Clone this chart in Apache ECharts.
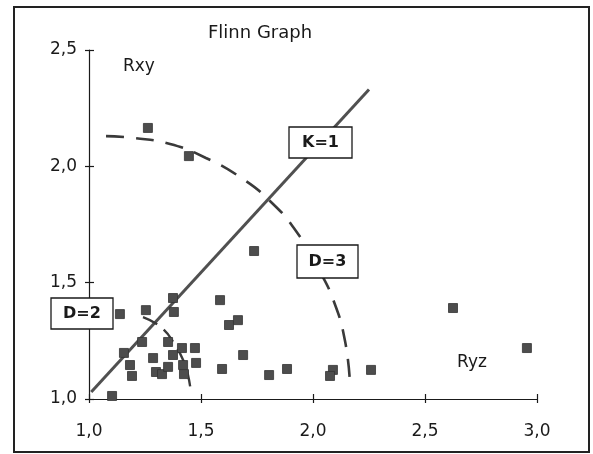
<!DOCTYPE html>
<html>
<head>
<meta charset="utf-8">
<script src="https://cdn.jsdelivr.net/npm/echarts@6/dist/echarts.min.js"></script>
<style>html,body{margin:0;padding:0;background:#fff}#c{width:593px;height:454px}</style>
</head>
<body>
<div id="c"></div>
<script>
// ---- data ----
const xTickValues = [1.0, 1.5, 2.0, 2.5, 3.0];
const xTickLabels = ['1,0', '1,5', '2,0', '2,5', '3,0'];
const yTickValues = [1.0, 1.5, 2.0, 2.5];
const yTickLabels = ['1,0', '1,5', '2,0', '2,5'];

const ryz = [1.138,1.254,1.375,1.379,1.237,1.156,1.353,1.415,1.473,1.286,1.375,1.478,1.183,1.192,1.299,1.326,1.353,1.420,1.424,1.103,1.585,1.625,1.665,1.688,1.594,1.737,1.804,1.884,2.089,2.076,2.259,2.625,2.955,1.263,1.446];
const rxy = [1.365,1.382,1.434,1.374,1.245,1.198,1.245,1.219,1.219,1.176,1.189,1.155,1.146,1.099,1.116,1.107,1.138,1.146,1.107,1.013,1.425,1.318,1.339,1.189,1.129,1.636,1.103,1.129,1.125,1.099,1.125,1.391,1.219,2.165,2.044];

const k1X = [1.01, 2.25];
const k1Y = [1.03, 2.33];

const d3X = [1.076,1.196,1.362,1.522,1.674,1.808,1.924,2.022,2.094,2.143,2.165];
const d3Y = [2.130,2.122,2.096,2.036,1.954,1.851,1.722,1.563,1.417,1.249,1.069];

const d2X = [1.241,1.326,1.384,1.424,1.442,1.455];
const d2Y = [1.352,1.305,1.232,1.159,1.103,1.030];

// ---- build ----
const zip = (a, b) => a.map((v, i) => [v, b[i]]);
const fmt = (vals, labs) => (v) => { const i = vals.findIndex(t => Math.abs(t - v) < 1e-9); return i >= 0 ? labs[i] : ''; };
const FONT = 'DejaVu Sans';
const ink = '#1a1a1a';
const markColor = '#4d4d4d';

function boxLabel(x, y, w, h, txt) {
  return [
    { type: 'rect', z: 100, shape: { x: x, y: y, width: w, height: h }, style: { fill: '#fff', stroke: ink, lineWidth: 1.3 } },
    { type: 'text', z: 101, x: x + w / 2, y: y + h / 2, style: { text: txt, fill: ink, font: 'bold 16px "' + FONT + '"', textAlign: 'center', textVerticalAlign: 'middle' } }
  ];
}

const chart = echarts.init(document.getElementById('c'), null, { renderer: 'canvas' });
chart.setOption({
  animation: false,
  backgroundColor: '#fff',
  grid: { left: 89, right: 56, top: 50, bottom: 55, containLabel: false },
  xAxis: [
    {
      type: 'value', min: 1, max: 3, interval: 0.5, position: 'bottom',
      axisLine: { lineStyle: { color: ink, width: 1.2 } },
      axisTick: { length: 4, lineStyle: { color: ink, width: 1.2 } },
      splitLine: { show: false },
      axisLabel: { formatter: fmt(xTickValues, xTickLabels), margin: 24, fontFamily: FONT, fontSize: 17, color: ink }
    },
    {
      type: 'value', min: 1, max: 3, interval: 0.5, position: 'bottom', offset: 0,
      axisLine: { show: false },
      axisTick: { inside: true, length: 5, lineStyle: { color: ink, width: 1.2 } },
      splitLine: { show: false },
      axisLabel: { show: false }
    }
  ],
  yAxis: [
    {
      type: 'value', min: 1, max: 2.5, interval: 0.5, position: 'left',
      axisLine: { show: true, lineStyle: { color: ink, width: 1.2 } },
      axisTick: { show: true, length: 4, lineStyle: { color: ink, width: 1.2 } },
      splitLine: { show: false },
      axisLabel: { formatter: fmt(yTickValues, yTickLabels), margin: 12, fontFamily: FONT, fontSize: 17, color: ink }
    },
    {
      type: 'value', min: 1, max: 2.5, interval: 0.5, position: 'left', offset: 0,
      axisLine: { show: false },
      axisTick: { show: true, inside: true, length: 5, lineStyle: { color: ink, width: 1.2 } },
      splitLine: { show: false },
      axisLabel: { show: false }
    }
  ],
  series: [
    {
      name: 'K=1', type: 'line', data: zip(k1X, k1Y), symbol: 'none', z: 2,
      lineStyle: { color: '#505050', width: 3 }
    },
    {
      name: 'D=3', type: 'line', data: zip(d3X, d3Y), symbol: 'none', smooth: true, z: 2,
      lineStyle: { color: '#3a3a3a', width: 2.6, type: [18, 12] }
    },
    {
      name: 'D=2', type: 'line', data: zip(d2X, d2Y), symbol: 'none', smooth: true, z: 2,
      lineStyle: { color: '#3a3a3a', width: 2.4, type: [16, 8] }
    },
    {
      name: 'samples', type: 'scatter', data: zip(ryz, rxy), symbol: 'rect', symbolSize: 9, z: 3,
      itemStyle: { color: markColor, borderColor: '#333', borderWidth: 0.8, opacity: 1 }
    }
  ],
  graphic: [
    { type: 'rect', shape: { x: 14, y: 7, width: 575, height: 445 }, style: { fill: 'none', stroke: '#222', lineWidth: 2 }, z: 0 },
    { type: 'text', x: 208, y: 33, style: { text: 'Flinn Graph', fill: ink, font: '18px "' + FONT + '"', textVerticalAlign: 'middle' }, z: 50 },
    { type: 'text', x: 123, y: 67, style: { text: 'Rxy', fill: ink, font: '17px "' + FONT + '"', textVerticalAlign: 'middle' }, z: 50 },
    { type: 'text', x: 457, y: 363, style: { text: 'Ryz', fill: ink, font: '17px "' + FONT + '"', textVerticalAlign: 'middle' }, z: 50 }
  ].concat(boxLabel(289, 127, 63, 31, 'K=1'), boxLabel(297, 245, 61, 33, 'D=3'), boxLabel(51, 298, 62, 31, 'D=2'))
});
</script>
</body>
</html>
